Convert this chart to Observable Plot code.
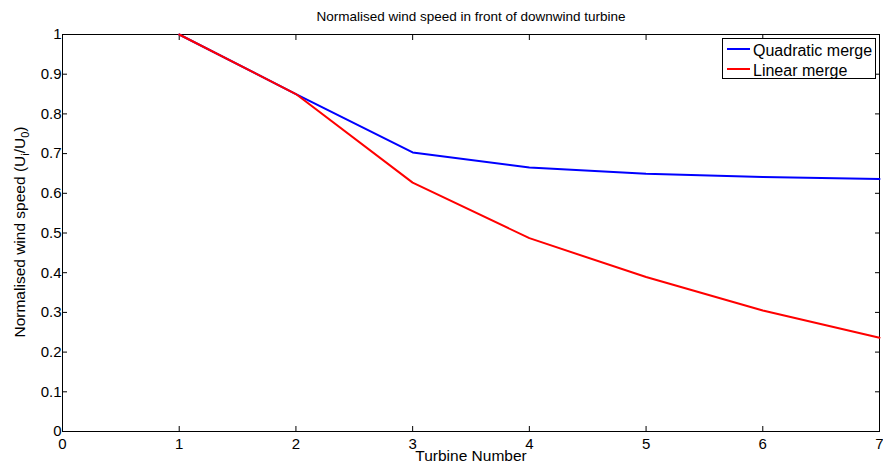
<!DOCTYPE html>
<html><head><meta charset="utf-8">
<script src="https://cdn.jsdelivr.net/npm/d3@7"></script>
<script src="https://cdn.jsdelivr.net/npm/@observablehq/plot@0.6"></script>
<style>body{margin:0;background:#fff;} svg{font-family:"Liberation Sans",Arial,sans-serif;}</style>
</head><body><div id="chart"></div>
<script>
const turbines = [1, 2, 3, 4, 5, 6, 7];
const quadratic = [1.0, 0.85, 0.703, 0.665, 0.649, 0.641, 0.636];
const linear = [1.0, 0.85, 0.627, 0.487, 0.389, 0.305, 0.236];
const seriesNames = ["Quadratic merge", "Linear merge"];
const seriesColors = ["#0000ff", "#ff0000"];
const xTicks = [0, 1, 2, 3, 4, 5, 6, 7];
const yTicks = [0, 0.1, 0.2, 0.3, 0.4, 0.5, 0.6, 0.7, 0.8, 0.9, 1];
const title = "Normalised wind speed in front of downwind turbine";
const xLabel = "Turbine Number";

const data = [];
turbines.forEach((t, i) => {
  data.push({t, v: quadratic[i], s: seriesNames[0]});
  data.push({t, v: linear[i], s: seriesNames[1]});
});
const fmt = d => String(d);
const blank = () => "";

const plot = Plot.plot({
  width: 883, height: 464,
  marginLeft: 62, marginRight: 4, marginTop: 34, marginBottom: 33,
  style: {fontFamily: '"Liberation Sans",Arial,sans-serif', fontSize: "15px", color: "#000", background: "#fff"},
  x: {domain: [0, 7]},
  y: {domain: [0, 1]},
  color: {domain: seriesNames, range: seriesColors},
  marks: [
    Plot.frame({stroke: "#000", strokeWidth: 1}),
    Plot.axisX({anchor: "bottom", ticks: xTicks, tickSize: -5, tickPadding: 12, tickFormat: fmt, label: null, fontSize: 15}),
    Plot.axisX({anchor: "top", ticks: xTicks, tickSize: -5, tickFormat: blank, label: null}),
    Plot.axisY({anchor: "left", ticks: yTicks, tickSize: -5, tickPadding: 6, tickFormat: fmt, label: null, fontSize: 15}),
    Plot.axisY({anchor: "right", ticks: yTicks, tickSize: -5, tickFormat: blank, label: null}),
    Plot.line(data, {x: "t", y: "v", z: "s", stroke: "s", strokeWidth: 2}),
    Plot.text([title], {frameAnchor: "top", lineAnchor: "middle", dy: -18, text: d => d, fontSize: 13.5}),
    Plot.text([xLabel], {frameAnchor: "bottom", lineAnchor: "middle", dy: 24.5, text: d => d, fontSize: 15.5})
  ]
});
document.getElementById("chart").appendChild(plot);

const svg = d3.select(plot);
// y-axis label with subscripts
const yl = svg.append("text")
  .attr("transform", "translate(24.5,232) rotate(-90)")
  .attr("text-anchor", "middle")
  .attr("font-size", 15.5)
  .attr("fill", "#000");
yl.append("tspan").text("Normalised wind speed (U");
yl.append("tspan").attr("font-size", 11).attr("dy", 4).text("i");
yl.append("tspan").attr("dy", -4).text("/U");
yl.append("tspan").attr("font-size", 11).attr("dy", 4).text("0");
yl.append("tspan").attr("dy", -4).text(")");

// legend
const lg = svg.append("g").attr("text-anchor", "start");
lg.append("rect").attr("x", 722.5).attr("y", 38.5).attr("width", 153).attr("height", 40)
  .attr("fill", "#fff").attr("stroke", "#000");
seriesNames.forEach((name, i) => {
  const y = 49 + i * 20;
  lg.append("line").attr("x1", 727).attr("x2", 750).attr("y1", y).attr("y2", y)
    .attr("stroke", seriesColors[i]).attr("stroke-width", 2);
  lg.append("text").attr("x", 753).attr("y", y + 1).attr("dy", "0.35em")
    .attr("text-anchor", "start")
    .attr("font-size", 16).attr("fill", "#000").text(name);
});
</script></body></html>
